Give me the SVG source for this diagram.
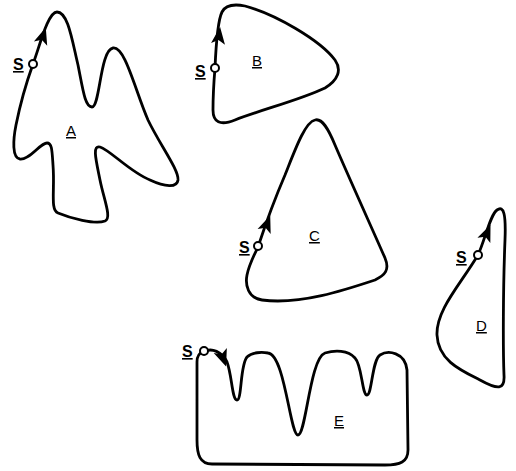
<svg xmlns="http://www.w3.org/2000/svg" width="516" height="471" viewBox="0 0 516 471">
<style>
.curve{fill:none;stroke:#000;stroke-width:2.8;stroke-linejoin:round}
.pt{fill:#fff;stroke:#000;stroke-width:2}
.s{font-family:"Liberation Sans",Arial,sans-serif;font-size:16px;font-weight:bold;text-decoration:underline}
.lbl{font-family:"Liberation Sans",Arial,sans-serif;font-size:15px;text-decoration:underline}
</style>
<defs>
<path id="ah" d="M9,0 L-8,-7 L-4,0 L-8,7 Z" fill="#000"/>
</defs>
<rect width="516" height="471" fill="#fff"/>
<g id="A">
<path class="curve" d="M33,64 C40,45 48,12 57,12 C68,12 72,40 78,65 C83,90 85,107 92,107 C100,107 100,50 113,48 C125,46 135,90 148,120 C160,145 179,170 178,180 C177,188 165,187 150,180 C130,172 110,150 100,147 C92,145 96,160 100,180 C104,200 112,218 105,221 C95,225 70,218 58,213 C50,210 55,190 53,165 C52,150 52,143 47,143 C40,143 30,160 20,159 C12,158 13,140 16,125 C21,100 28,78 33,64 Z"/>
<use href="#ah" transform="translate(43,36) rotate(-72)"/>
<circle class="pt" cx="33" cy="64" r="4"/>
<text class="s" x="13" y="70">S</text>
<text class="lbl" x="66" y="136">A</text>
</g>
<g id="B">
<path class="curve" d="M215,68 C216,45 218,20 222,12 C226,4 235,4 245,6 C275,14 320,40 335,60 C342,70 338,80 325,88 C300,100 260,110 235,120 C220,126 213,122 213,110 C213,95 214,80 215,68 Z"/>
<use href="#ah" transform="translate(219,36) rotate(-83)"/>
<circle class="pt" cx="215" cy="68" r="4"/>
<text class="s" x="195" y="77">S</text>
<text class="lbl" x="252" y="66">B</text>
</g>
<g id="C">
<path class="curve" d="M258,247 C262,235 270,210 285,175 C295,150 305,122 315,120 C322,118 328,128 335,145 C350,180 375,235 385,258 C390,270 385,275 375,280 C345,290 300,305 262,300 C248,298 245,285 247,275 C249,265 253,257 258,247 Z"/>
<use href="#ah" transform="translate(267,224) rotate(-69)"/>
<circle class="pt" cx="258" cy="246" r="4"/>
<text class="s" x="239" y="253">S</text>
<text class="lbl" x="309" y="241">C</text>
</g>
<g id="D">
<path class="curve" d="M478,255 C485,240 490,215 497,210 C504,205 506,215 505,240 C503,290 503,350 504,375 C505,390 498,390 480,380 C460,370 438,360 437,335 C436,310 460,285 478,255 Z"/>
<use href="#ah" transform="translate(487,233) rotate(-67)"/>
<circle class="pt" cx="478" cy="255" r="4"/>
<text class="s" x="456" y="263">S</text>
<text class="lbl" x="476" y="331">D</text>
</g>
<g id="E">
<path class="curve" d="M203,352 C212,347 222,352 227,362 C232,375 232,400 237,400 C242,400 240,365 247,357 C252,352 262,352 268,353 C285,355 290,435 298,435 C306,435 310,358 325,353 C335,350 348,350 355,358 C362,365 362,395 367,395 C372,395 372,360 380,355 C388,350 405,352 407,370 L408,450 C408,462 400,465 385,465 L212,464 C200,464 197,455 197,440 L197,362 C197,356 199,353 203,352 Z"/>
<use href="#ah" transform="translate(223,358) rotate(70)"/>
<circle class="pt" cx="204" cy="351" r="4"/>
<text class="s" x="182" y="357">S</text>
<text class="lbl" x="334" y="426">E</text>
</g>
</svg>
